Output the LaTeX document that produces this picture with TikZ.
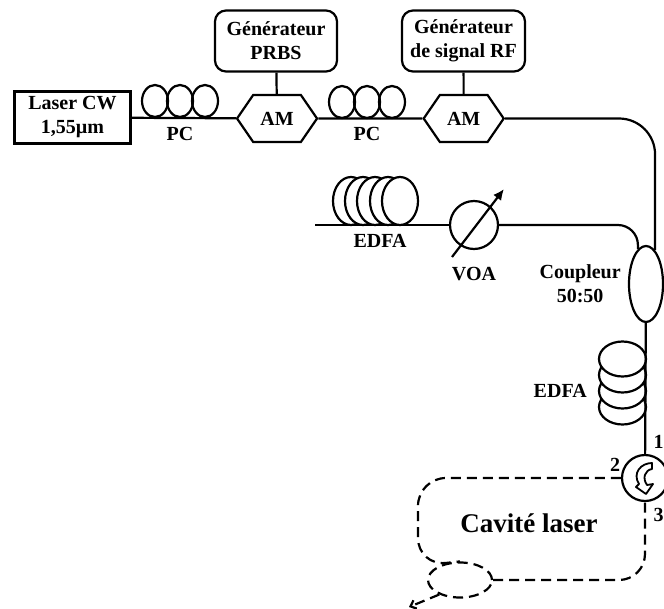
\documentclass[tikz,border=0pt]{standalone}
\usepackage{fontspec}
\setmainfont{Liberation Serif}
\usetikzlibrary{arrows.meta,positioning,shapes.geometric,shapes.symbols}
\tikzset{
  label/.style={font=\bfseries\fontsize{20}{24}\selectfont, align=center, inner sep=0pt},
  bigtext/.style={font=\bfseries\fontsize{27}{30}\selectfont, inner sep=0pt},
  laserbox/.style={label, draw, line width=2.4pt, minimum width=116pt, minimum height=52pt},
  genbox/.style={label, draw, line width=2.2pt, rounded corners=11pt, minimum height=61pt},
  modbox/.style={label, draw, line width=2.2pt, fill=white, signal, signal to=east and west, signal pointer angle=111, minimum width=80pt, minimum height=47pt},
  pcloop/.style={draw, line width=2.2pt, ellipse, minimum width=26pt, minimum height=32pt, inner sep=0pt},
  coilh/.style={draw, line width=2.2pt, fill=white, ellipse, minimum width=36pt, minimum height=48pt, inner sep=0pt},
  coilv/.style={draw, line width=2.2pt, fill=white, ellipse, minimum width=47pt, minimum height=35pt, inner sep=0pt},
  roundpart/.style={draw, line width=2.2pt, fill=white, circle, inner sep=0pt},
  fibre/.style={line width=2.2pt},
  cavity/.style={line width=2.2pt, dash pattern=on 10pt off 6pt},
}
\begin{document}
\begin{tikzpicture}[x=1pt,y=-1pt]
\useasboundingbox (0,0) rectangle (664,608);

% Top line
\node[laserbox] (laser) at (72.5,117.5) {Laser CW\\1,55µm};
\node[modbox, right=104pt of laser, yshift=-1pt] (amA) {AM};
\node[modbox, right=104pt of amA] (amB) {AM};
\node[genbox, minimum width=122pt] (prbs) at (276,41) {Générateur\\PRBS};
\node[genbox, minimum width=123pt] (rfgen) at (463.5,41) {Générateur\\de signal RF};
\foreach \n/\x in {1/155,2/180,3/205} \node[pcloop] (pcA\n) at (\x,101) {};
\foreach \n/\x in {1/342,2/367,3/392} \node[pcloop] (pcB\n) at (\x,102) {};
\node[label, below=9pt of pcA2] (pcAtext) {PC};
\node[label, below=8pt of pcB2] (pcBtext) {PC};

\draw[fibre] (laser) -- (amA);
\draw[fibre] (amA) -- (amB);
\draw[fibre] (prbs) -- (amA);
\draw[fibre] (rfgen) -- (amB);

% Second line
\foreach \n/\x in {1/351,2/363,3/375,4/388,5/400} \node[coilh] (coilA\n) at (\x,201) {};
\coordinate (fibreA) at (315,225);
\node[roundpart, minimum size=48pt] (voa) at (474,225) {};
\coordinate (voaA) at (452,257);
\coordinate (voaB) at (504,189);
\node[label, below=8pt of coilA3, xshift=5pt] (edfaAtext) {EDFA};
\node[label, below=17pt of voa] (voatext) {VOA};
\node[draw, line width=2.2pt, ellipse, minimum width=34pt, minimum height=76pt, inner sep=0pt] (coupler) at (646,284) {};
\node[label, left=7pt of coupler] (couplertext) {Coupleur\\50:50};

\draw[fibre] (fibreA) -- (voa);
\draw[fibre, -{Latex[length=11pt,width=10pt]}] (voaA) -- (voaB);
\draw[fibre, rounded corners=20pt] (voa) -| (coupler.103);
\draw[fibre, rounded corners=36pt] (amB) -| (coupler.75);

% Amplifier and circulator
\foreach \n/\y in {1/407,2/391,3/375,4/359} \node[coilv] (coilB\n) at (622.5,\y) {};
\node[label, left=11pt of coilB2] (edfaBtext) {EDFA};
\node[roundpart, minimum size=46pt] (circ) at (645,478) {};
\node[label] (portA) at (658.5,442) {1};
\node[label] (portB) at (615,465) {2};
\node[label] (portC) at (658.5,515) {3};

\draw[fibre] (coupler) -- (circ);
\draw[line width=1.8pt, fill=white, line join=round] (652,463) .. controls (641,463) and (632,473) .. (639,484) -- (636,487) -- (646,494) -- (653,484) -- (647,485) .. controls (642,478) and (645,470) .. (652,469) -- cycle;

% Cavity
\node[bigtext] (cavtext) at (529,523) {Cavité laser};
\node[draw, cavity, ellipse, minimum width=64pt, minimum height=35pt, inner sep=0pt] (outc) at (460,580) {};
\coordinate (cavNW) at (418,478);
\coordinate (cavSW) at (418,566);
\coordinate (cavSE) at (645,580);
\coordinate (outp) at (409,607);

\draw[cavity, rounded corners=28pt] (circ) -- (cavNW) -- (cavSW) -- (outc.north);
\draw[cavity, rounded corners=26pt] (outc.east) -- (cavSE) -- (circ);
\draw[cavity, -{Straight Barb[length=5pt,width=9pt]}] (outc.215) -- (outp);

\end{tikzpicture}
\end{document}
